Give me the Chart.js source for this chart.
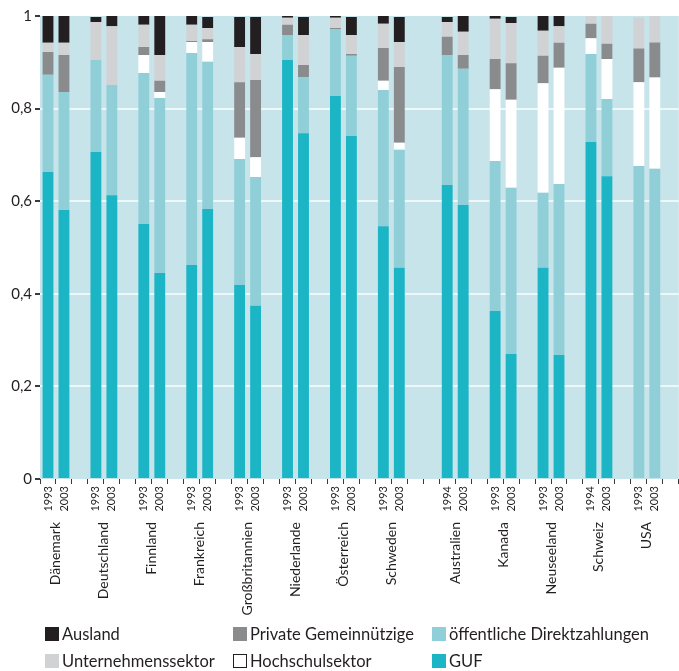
<!DOCTYPE html>
<html lang="de">
<head>
<meta charset="utf-8">
<title>Finanzierungsstruktur</title>
<script src="https://cdn.jsdelivr.net/npm/chart.js@4.4.1/dist/chart.umd.min.js"></script>
<style>
    html, body { margin: 0; padding: 0; background: #fff; overflow: hidden; width: 679px; height: 671px; }
    #wrap { position: relative; width: 686px; height: 620px; }
    #legend { position: absolute; left: 0; top: 0; width: 679px; height: 671px; pointer-events: none;
              font-family: Lato, sans-serif; font-size: 16.5px; color: #231f20; }
    .item { position: absolute; display: flex; align-items: center; white-space: nowrap; height: 16px; }
    .box { width: 14px; height: 14px; margin-right: 3px; box-sizing: border-box; }
</style>
</head>
<body>
<div id="wrap"><canvas id="chart" width="686" height="620"></canvas></div>
<div id="legend"></div>
<script>
// --- Data --- //
const countries = ['Dänemark', 'Deutschland', 'Finnland', 'Frankreich', 'Großbritannien', 'Niederlande',
    'Österreich', 'Schweden', 'Australien', 'Kanada', 'Neuseeland', 'Schweiz', 'USA'];
const years = [
    ['1993', '2003'], ['1993', '2003'], ['1993', '2003'], ['1993', '2003'], ['1993', '2003'], ['1993', '2003'],
    ['1993', '2003'], ['1993', '2003'], ['1994', '2003'], ['1993', '2003'], ['1993', '2003'], ['1994', '2003'],
    ['1993', '2003']
];

// shares per bar, two bars per country in the order above
const guf = [0.663, 0.581, 0.706, 0.613, 0.551, 0.445, 0.462, 0.583, 0.419, 0.374, 0.905, 0.747, 0.827,
    0.741, 0.546, 0.456, 0.635, 0.592, 0.363, 0.270, 0.456, 0.268, 0.728, 0.654, 0, 0];
const direktzahlungen = [0.210, 0.255, 0.199, 0.238, 0.326, 0.378, 0.458, 0.318, 0.272, 0.278, 0.054, 0.121, 0.145,
    0.173, 0.294, 0.255, 0.281, 0.294, 0.324, 0.359, 0.162, 0.369, 0.190, 0.167, 0.676, 0.670];
const hochschule = [0, 0, 0, 0, 0.039, 0.013, 0.024, 0.043, 0.046, 0.043, 0, 0, 0,
    0, 0.020, 0.015, 0, 0, 0.155, 0.190, 0.237, 0.251, 0.034, 0.086, 0.181, 0.197];
const privat = [0.049, 0.080, 0, 0, 0.017, 0.024, 0.002, 0.006, 0.120, 0.167, 0.022, 0.026, 0.002,
    0.004, 0.071, 0.164, 0.039, 0.030, 0.065, 0.079, 0.059, 0.054, 0.031, 0.033, 0.073, 0.076];
const unternehmen = [0.020, 0.026, 0.082, 0.127, 0.048, 0.056, 0.035, 0.024, 0.076, 0.056, 0.015, 0.065, 0.022,
    0.041, 0.052, 0.054, 0.032, 0.050, 0.087, 0.087, 0.054, 0.036, 0.017, 0.060, 0.067, 0.058];
const ausland = [0.058, 0.058, 0.011, 0.022, 0.019, 0.084, 0.019, 0.024, 0.065, 0.080, 0.004, 0.039, 0.004,
    0.039, 0.017, 0.054, 0.011, 0.035, 0.006, 0.013, 0.032, 0.022, 0, 0, 0, 0];

// stacked bottom to top
const series = [
    { label: 'GUF', values: guf, color: '#1bb5c6' },
    { label: 'öffentliche Direktzahlungen', values: direktzahlungen, color: '#90cfd8' },
    { label: 'Hochschulsektor', values: hochschule, color: '#ffffff' },
    { label: 'Private Gemeinnützige', values: privat, color: '#8a8b8d' },
    { label: 'Unternehmenssektor', values: unternehmen, color: '#d1d2d4' },
    { label: 'Ausland', values: ausland, color: '#231f20' }
];

// --- Slot layout: two bars, one gap per country; extra gap after the European block --- //
const slotLabels = [];
const slotBar = [];
const countryPos = [];
countries.forEach((c, i) => {
    countryPos.push(slotLabels.length + 0.5);
    years[i].forEach((y, j) => { slotLabels.push(y); slotBar.push(i * 2 + j); });
    slotLabels.push(''); slotBar.push(null);
    if (c === 'Schweden') { slotLabels.push(''); slotBar.push(null); }
});

const font = 'Lato, sans-serif';
const ink = '#231f20';

const plotBackground = {
    id: 'plotBackground',
    beforeDraw(chart) {
        const { ctx, chartArea: a } = chart;
        ctx.save();
        ctx.fillStyle = '#c6e4ea';
        ctx.fillRect(a.left, a.top, a.right - a.left, a.bottom - a.top);
        ctx.restore();
    }
};

new Chart(document.getElementById('chart'), {
    type: 'bar',
    data: {
        labels: slotLabels,
        datasets: series.map(s => ({
            label: s.label,
            data: slotBar.map(b => b === null ? null : s.values[b]),
            backgroundColor: s.color,
            borderWidth: 0,
            barPercentage: 0.68,
            categoryPercentage: 1
        }))
    },
    options: {
        responsive: false,
        animation: false,
        layout: { padding: { top: 16, left: 0, right: 0, bottom: 0 } },
        plugins: { legend: { display: false }, tooltip: { enabled: false } },
        scales: {
            x: {
                stacked: true,
                weight: 0,
                grid: { drawOnChartArea: false, offset: true, tickLength: 5, tickColor: '#3a3a3a' },
                border: { display: false },
                ticks: { autoSkip: false, minRotation: 90, maxRotation: 90, padding: 2, color: ink, font: { family: font, size: 11 } },
                afterFit: s => { s.height = 43; }
            },
            // country names sit between the two bars of each group
            country: {
                type: 'linear',
                position: 'bottom',
                weight: 1,
                offset: false,
                min: -0.5,
                max: slotLabels.length - 0.5,
                grid: { display: false, drawTicks: false, offset: false },
                border: { display: false },
                afterBuildTicks: s => { s.ticks = countryPos.map(v => ({ value: v })); },
                ticks: {
                    autoSkip: false, minRotation: 90, maxRotation: 90, padding: 0, color: ink,
                    font: { family: font, size: 14 },
                    callback: (v, i) => countries[i]
                },
                afterFit: s => { s.height = 98; }
            },
            y: {
                stacked: true,
                min: 0,
                max: 1,
                grid: {
                    color: c => (c.tick.value > 0.01 && c.tick.value < 0.99) ? '#eef7f9' : 'rgba(0,0,0,0)',
                    lineWidth: 2,
                    tickLength: 5,
                    tickColor: '#3a3a3a'
                },
                border: { display: false },
                ticks: {
                    stepSize: 0.2,
                    padding: 3,
                    color: ink,
                    font: { family: font, size: 15 },
                    callback: v => v < 0.01 ? '0' : v > 0.99 ? '1' : v.toFixed(1).replace('.', ',')
                },
                afterFit: s => { s.width = 40; }
            }
        }
    },
    plugins: [plotBackground]
});

// --- Legend: two rows of three --- //
const legendOrder = ['Ausland', 'Private Gemeinnützige', 'öffentliche Direktzahlungen',
    'Unternehmenssektor', 'Hochschulsektor', 'GUF'];
const colX = [45, 233, 432];
const rowY = [626, 653];
const legend = document.getElementById('legend');
legendOrder.forEach((name, i) => {
    const s = series.find(d => d.label === name);
    const item = document.createElement('div');
    item.className = 'item';
    item.style.left = colX[i % 3] + 'px';
    item.style.top = rowY[Math.floor(i / 3)] + 'px';
    const box = document.createElement('span');
    box.className = 'box';
    box.style.background = s.color;
    if (s.color === '#ffffff') box.style.border = '1px solid ' + ink;
    const text = document.createElement('span');
    text.textContent = name;
    item.appendChild(box);
    item.appendChild(text);
    legend.appendChild(item);
});
</script>
</body>
</html>
